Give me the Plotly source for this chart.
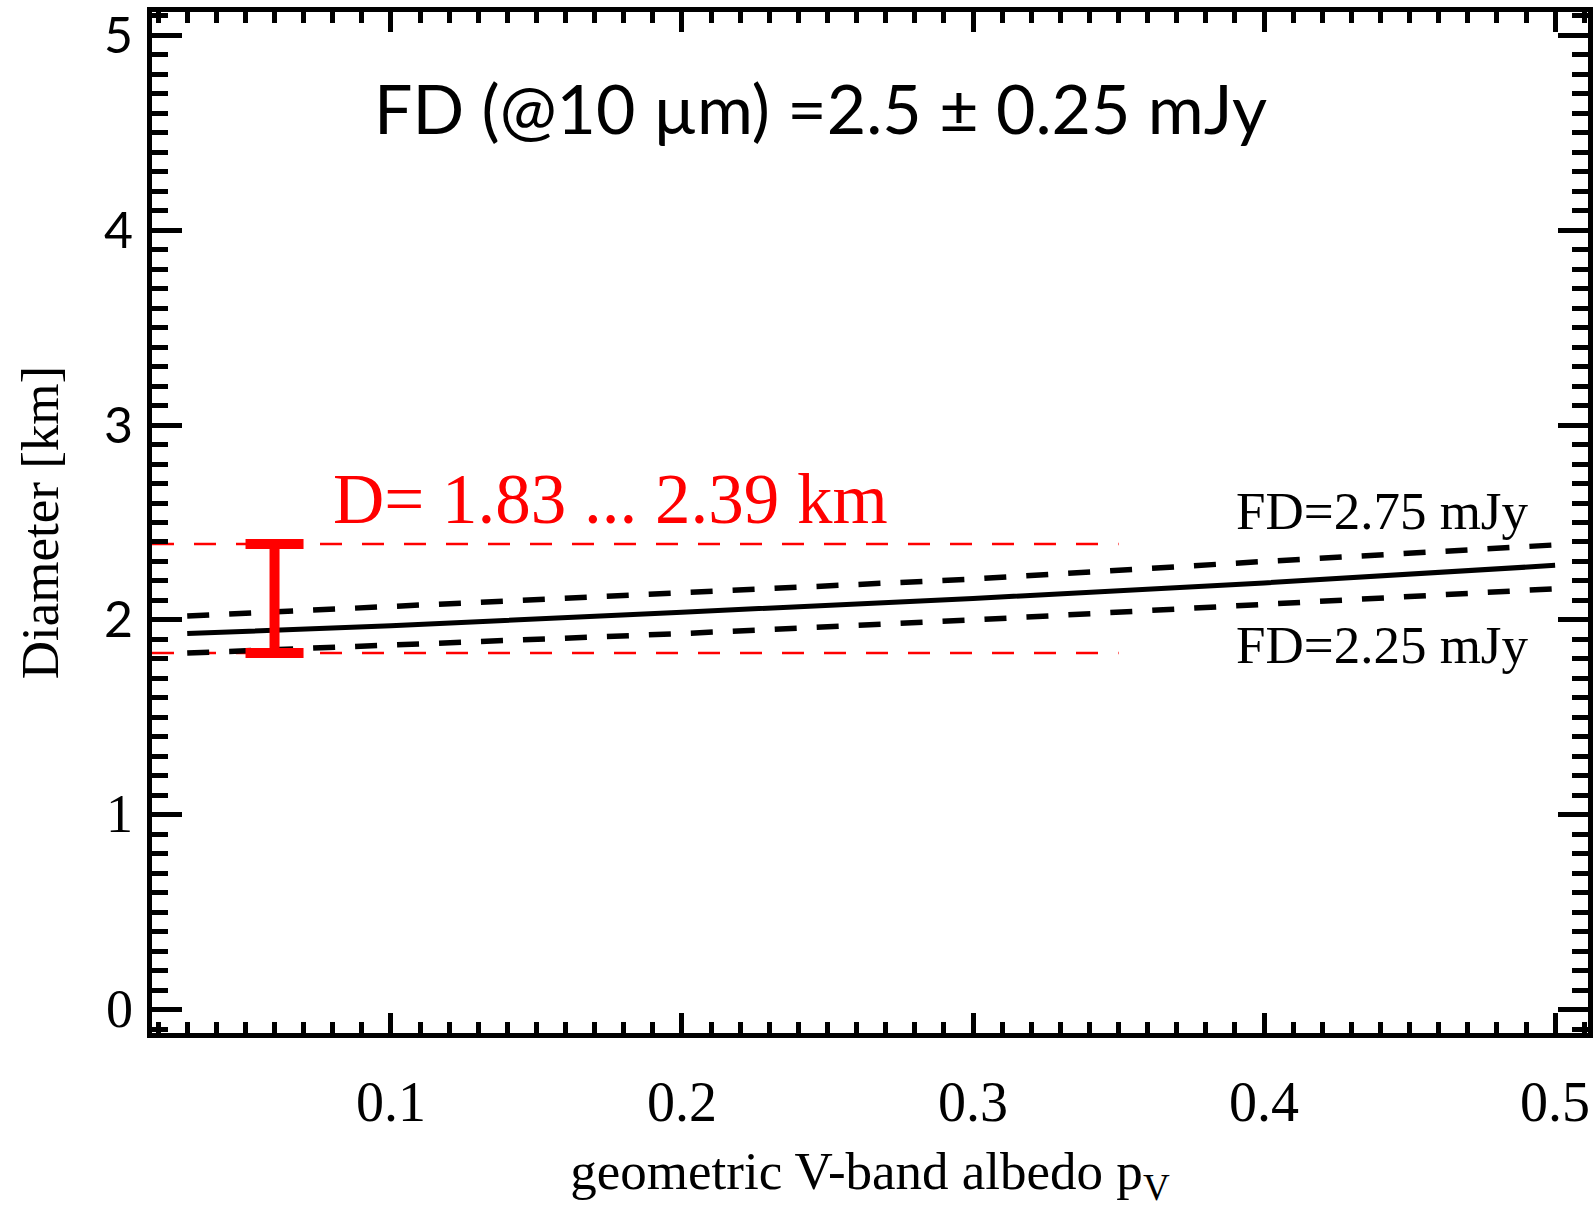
import plotly.graph_objects as go

# Diameter vs. geometric albedo for a fixed 10 micron flux density
albedo = [0.03, 0.1, 0.2, 0.3, 0.4, 0.5]
diam_nominal = [1.93, 1.97, 2.04, 2.11, 2.19, 2.28]   # FD = 2.50 mJy
diam_high = [2.02, 2.07, 2.14, 2.21, 2.30, 2.385]     # FD = 2.75 mJy
diam_low = [1.83, 1.87, 1.93, 2.00, 2.08, 2.16]       # FD = 2.25 mJy

# Resulting diameter range
d_min, d_max = 1.83, 2.39
pv_marker = 0.06
range_line_x = [0.0179, 0.35]

x_range = [0.0179, 0.5113]
y_range = [-0.12, 5.12]

x_ticks = [0.1, 0.2, 0.3, 0.4, 0.5]
x_ticktext = ["0.1", "0.2", "0.3", "0.4", "0.5"]
y_ticks = [0, 1, 2, 3, 4, 5]
SERIF = "Liberation Serif"
SANS = "Lato"
y_ticktext = [
    f'<span style="font-family:{SERIF};font-size:54px">0</span>',
    f'<span style="font-family:{SERIF};font-size:54px">1</span>',
    "2", "3", "4", "5",
]

fig = go.Figure()

# horizontal red limits of the diameter range
for d in (d_max, d_min):
    fig.add_trace(go.Scatter(
        x=range_line_x, y=[d, d], mode="lines",
        line=dict(color="#ff0000", width=2.5, dash="22px,20px"),
        hoverinfo="skip", showlegend=False,
    ))

fig.add_trace(go.Scatter(
    x=albedo, y=diam_high, mode="lines",
    line=dict(color="black", width=5.5, dash="22px,20px"), showlegend=False,
))
fig.add_trace(go.Scatter(
    x=albedo, y=diam_low, mode="lines",
    line=dict(color="black", width=5.5, dash="22px,20px"), showlegend=False,
))
fig.add_trace(go.Scatter(
    x=albedo, y=diam_nominal, mode="lines",
    line=dict(color="black", width=5), showlegend=False,
))

# red error bar spanning the diameter range
fig.add_trace(go.Scatter(
    x=[pv_marker], y=[(d_min + d_max) / 2], mode="markers",
    marker=dict(size=0.1, color="#ff0000"),
    error_y=dict(type="data", symmetric=True, array=[(d_max - d_min) / 2],
                 color="#ff0000", thickness=10, width=29),
    showlegend=False,
))

annotations = [
    dict(x=0.2475, y=4.63, text="FD (@10 µm) =2.5 ± 0.25 mJy",
         font=dict(family=SANS, size=68, color="black"),
         xanchor="center", yanchor="middle", showarrow=False),
    dict(x=0.0795, y=2.62, text="D= 1.83 ... 2.39 km",
         font=dict(family=SERIF, size=71, color="#ff0000"),
         xanchor="left", yanchor="middle", showarrow=False),
    dict(x=0.4915, y=2.56, text="FD=2.75 mJy",
         font=dict(family=SERIF, size=53, color="black"),
         xanchor="right", yanchor="middle", showarrow=False),
    dict(x=0.4915, y=1.87, text="FD=2.25 mJy",
         font=dict(family=SERIF, size=53, color="black"),
         xanchor="right", yanchor="middle", showarrow=False),
]

fig.update_layout(
    width=1595, height=1208,
    margin=dict(l=152, r=7, t=12, b=175),
    paper_bgcolor="white", plot_bgcolor="white",
    annotations=annotations,
    showlegend=False,
)

fig.update_xaxes(
    range=x_range, showgrid=False, zeroline=False, automargin=False,
    showline=True, linecolor="black", linewidth=5, mirror="ticks",
    ticks="inside", ticklen=20, tickwidth=5, tickcolor="black",
    tickvals=x_ticks, ticktext=x_ticktext,
    tickfont=dict(family=SERIF, size=56, color="black"),
    ticklabelstandoff=16,
    minor=dict(ticks="inside", ticklen=11, tickwidth=5, tickcolor="black",
               dtick=0.01, tick0=0.0, showgrid=False),
    title=dict(text="geometric V-band albedo p<sub>V</sub>",
               font=dict(family=SERIF, size=53, color="black"), standoff=36),
)
fig.update_yaxes(
    range=y_range, showgrid=False, zeroline=False, automargin=False,
    showline=True, linecolor="black", linewidth=5, mirror="ticks",
    ticks="inside", ticklen=30, tickwidth=5, tickcolor="black",
    tickvals=y_ticks, ticktext=y_ticktext,
    tickfont=dict(family=SANS, size=50, color="black"),
    ticklabelstandoff=4,
    minor=dict(ticks="inside", ticklen=16, tickwidth=5, tickcolor="black",
               dtick=0.1, tick0=0, showgrid=False),
    title=dict(text="Diameter [km]",
               font=dict(family=SERIF, size=53, color="black"), standoff=30),
)

fig.write_html("out.html")
